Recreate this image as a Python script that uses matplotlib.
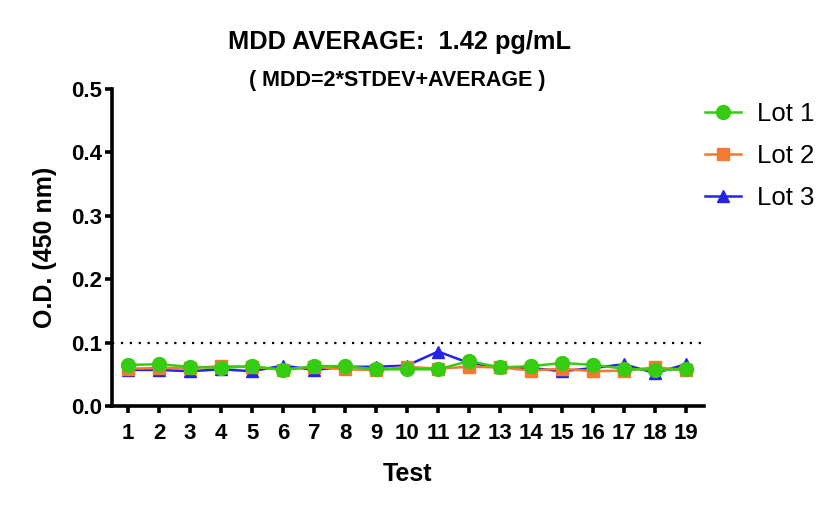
import matplotlib
matplotlib.use("Agg")
import matplotlib.pyplot as plt

plt.rcParams['font.family'] = ['Liberation Sans', 'DejaVu Sans']

tests = list(range(1, 20))
lot1 = [0.065, 0.066, 0.062, 0.060, 0.063, 0.057, 0.063, 0.063, 0.058, 0.058,
        0.058, 0.071, 0.061, 0.063, 0.068, 0.065, 0.059, 0.057, 0.058]
lot2 = [0.059, 0.060, 0.060, 0.063, 0.062, 0.057, 0.062, 0.058, 0.057, 0.062,
        0.059, 0.062, 0.061, 0.056, 0.059, 0.055, 0.056, 0.061, 0.057]
lot3 = [0.057, 0.057, 0.055, 0.058, 0.055, 0.064, 0.057, 0.062, 0.062, 0.064,
        0.086, 0.068, 0.061, 0.060, 0.055, 0.060, 0.066, 0.052, 0.066]
threshold = 0.1
yticks = [0.0, 0.1, 0.2, 0.3, 0.4, 0.5]

fig = plt.figure(figsize=(8.39, 5.07), dpi=100)
ax = fig.add_axes([0.1335, 0.199, 0.7055, 0.6255])

ax.axhline(threshold, color='black', linestyle=(0, (1, 3)), linewidth=1.6, zorder=1)

l3, = ax.plot(tests, lot3, color='#2424E6', marker='^', markersize=9, linewidth=1.8,
              label='Lot 3', zorder=2, clip_on=False)
l2, = ax.plot(tests, lot2, color='#F37A2E', marker='s', markersize=8.5, linewidth=1.8,
              label='Lot 2', zorder=3, clip_on=False)
l1, = ax.plot(tests, lot1, color='#35CC12', marker='o', markersize=10, linewidth=1.8,
              label='Lot 1', zorder=4, clip_on=False)

ax.set_xlim(0.48, 19.58)
ax.set_ylim(0, 0.5)
ax.set_xticks(tests)
ax.set_xticklabels([str(t) for t in tests])
ax.set_yticks(yticks)
ax.set_yticklabels([f"{v:.1f}" for v in yticks])

for s in ['top', 'right']:
    ax.spines[s].set_visible(False)
for s in ['left', 'bottom']:
    ax.spines[s].set_linewidth(2.6)
ax.tick_params(axis='both', direction='out', length=5, width=2.6, labelsize=16)
ax.tick_params(axis='x', pad=7)
ax.tick_params(axis='y', pad=2)
for lab in ax.get_xticklabels() + ax.get_yticklabels():
    lab.set_fontweight('bold')

ax.set_xlabel('Test', fontsize=18, fontweight='bold', labelpad=13)
ax.set_ylabel('O.D. (450 nm)', fontsize=18, fontweight='bold', labelpad=10)

fig.text(0.476, 0.917, 'MDD AVERAGE:  1.42 pg/mL', ha='center', va='center',
         fontsize=18.3, fontweight='bold')
fig.text(0.474, 0.842, '( MDD=2*STDEV+AVERAGE )', ha='center', va='center',
         fontsize=15.5, fontweight='bold')

leg = ax.legend(handles=[l1, l2, l3], loc='upper left', bbox_to_anchor=(0.985, 0.99),
                frameon=False, fontsize=18.5, handlelength=1.4, handletextpad=0.6,
                labelspacing=0.7, borderaxespad=0.0)

fig.savefig('out.png', dpi=100)
